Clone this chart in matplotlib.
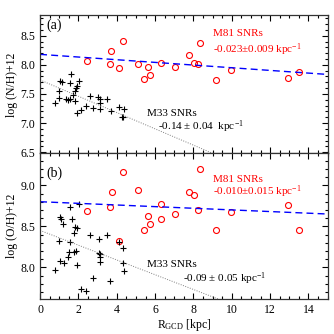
import matplotlib
matplotlib.use("Agg")
import matplotlib.pyplot as plt
import numpy as np
from matplotlib.ticker import MultipleLocator

plt.rcParams['font.family'] = ['Liberation Serif', 'DejaVu Serif']
plt.rcParams['mathtext.fontset'] = 'custom'
plt.rcParams['mathtext.rm'] = 'Liberation Serif'
plt.rcParams['mathtext.it'] = 'Liberation Serif:italic'

# Panel (a): log(N/H)+12
m81_r_a = [2.47, 3.70, 3.65, 4.31, 4.10, 5.11, 5.65, 5.44, 5.72, 6.31, 7.05, 7.78, 8.04, 8.22, 8.36, 9.16, 9.97, 12.91, 13.49]
m81_nh = [8.07, 8.24, 8.01, 8.41, 7.95, 8.01, 7.97, 7.76, 7.83, 8.04, 7.96, 8.17, 8.04, 8.02, 8.38, 7.74, 7.91, 7.77, 7.88]
m33_r_a = [1.62, 1.04, 1.13, 1.56, 2.05, 1.95, 0.99, 1.82, 1.74, 1.34, 1.48, 1.56, 1.82, 0.78, 2.62, 3.04, 3.13, 3.11,
           3.49, 2.38, 2.12, 1.90, 2.78, 3.13, 3.68, 4.12, 4.36, 4.29, 4.34, 1.01, 1.88]
m33_nh = [7.85, 7.72, 7.70, 7.69, 7.72, 7.63, 7.55, 7.55, 7.48, 7.41, 7.39, 7.41, 7.38, 7.34, 7.47, 7.44, 7.41, 7.35,
          7.41, 7.30, 7.22, 7.18, 7.25, 7.24, 7.21, 7.27, 7.24, 7.11, 7.10, 7.43, 7.60]

# Panel (b): log(O/H)+12
m81_r_b = [2.47, 4.31, 3.74, 3.65, 4.10, 5.11, 5.65, 5.72, 5.44, 6.31, 6.31, 7.05, 7.78, 8.04, 8.22, 8.36, 9.16, 9.97, 12.91, 13.49]
m81_oh = [8.69, 9.16, 8.92, 8.73, 8.32, 8.94, 8.62, 8.53, 8.46, 8.77, 8.59, 8.65, 8.92, 8.88, 8.70, 9.20, 8.45, 8.68, 8.76, 8.45]
m33_r_b = [2.03, 1.56, 1.04, 1.07, 1.17, 1.65, 1.79, 1.82, 1.91, 1.01, 1.56, 2.61, 3.06, 3.51, 4.13, 4.34, 1.51, 1.79,
           1.86, 3.08, 3.12, 3.12, 3.12, 1.04, 1.27, 1.44, 1.93, 0.78, 4.32, 4.36, 2.78, 3.66, 2.13, 2.38]
m33_oh = [8.77, 8.74, 8.61, 8.59, 8.53, 8.59, 8.42, 8.49, 8.48, 8.32, 8.31, 8.40, 8.34, 8.40, 8.31, 8.23, 8.19, 8.19,
          8.20, 8.18, 8.16, 8.12, 8.07, 8.08, 8.05, 8.12, 8.03, 7.97, 8.05, 7.95, 7.87, 7.83, 7.73, 7.71]

# Fitted gradients (intercept, slope)
fit_m81_a = (8.18, -0.023)
fit_m33_a = (7.74, -0.14)
fit_m81_b = (8.80, -0.010)
fit_m33_b = (8.45, -0.09)

fig = plt.figure(figsize=(3.34, 3.34), dpi=100)
axa = fig.add_axes([0.12, 0.541, 0.861, 0.413])
axb = fig.add_axes([0.12, 0.105, 0.861, 0.436])

xx = np.array([0.0, 15.0])

def style(ax):
    ax.set_xlim(0, 15)
    ax.xaxis.set_major_locator(MultipleLocator(2))
    ax.xaxis.set_minor_locator(MultipleLocator(0.5))
    ax.yaxis.set_major_locator(MultipleLocator(0.5))
    ax.yaxis.set_minor_locator(MultipleLocator(0.1))
    ax.tick_params(which='both', direction='in', top=True, right=True, labelsize=8.5, width=0.8)
    ax.tick_params(which='major', length=4)
    ax.tick_params(which='minor', length=2)
    for s in ax.spines.values():
        s.set_linewidth(0.9)
        s.set_color('#333333')

for ax, mr, my, cr, cy, f81, f33 in [
        (axa, m81_r_a, m81_nh, m33_r_a, m33_nh, fit_m81_a, fit_m33_a),
        (axb, m81_r_b, m81_oh, m33_r_b, m33_oh, fit_m81_b, fit_m33_b)]:
    ax.plot(mr, my, 'o', ms=4.3, mfc='none', mec='red', mew=0.8)
    ax.plot(cr, cy, '+', ms=4.5, color='black', mew=0.8)
    ax.plot(xx, f81[0] + f81[1] * xx, color='blue', ls=(0, (5, 3)), lw=1.0)
    ax.plot(xx, f33[0] + f33[1] * xx, color='gray', ls=(0, (1, 1.5)), lw=0.7)
    style(ax)

axa.set_ylim(6.48, 8.85)
axb.set_ylim(7.615, 9.39)
axa.tick_params(labelbottom=False)

axa.set_ylabel('log (N/H)+12', fontsize=8.5, labelpad=2)
axb.set_ylabel('log (O/H)+12', fontsize=8.5, labelpad=2)
axb.set_xlabel(r'R$_{\rm GCD}$ [kpc]', fontsize=8.5, labelpad=1)

axa.text(0.023, 0.93, '(a)', transform=axa.transAxes, fontsize=10, va='center')
axb.text(0.023, 0.86, '(b)', transform=axb.transAxes, fontsize=10, va='center')

axa.text(9.02, 8.54, 'M81 SNRs', color='red', fontsize=8, va='center')
axa.text(9.02, 8.26, r'-0.023$\pm$0.009 kpc$^{-1}$', color='red', fontsize=8, va='center')
axa.text(5.56, 7.17, 'M33 SNRs', color='black', fontsize=8, va='center')
axa.text(6.15, 6.94, r'-0.14 $\pm$ 0.04  kpc$^{-1}$', color='black', fontsize=8, va='center')

axb.text(9.02, 8.975, 'M81 SNRs\n' + r'-0.010$\pm$0.015 kpc$^{-1}$', color='red', fontsize=8,
         va='center', linespacing=1.0)
axb.text(5.56, 8.03, 'M33 SNRs', color='black', fontsize=8, va='center')
axb.text(7.45, 7.86, r'-0.09 $\pm$ 0.05 kpc$^{-1}$', color='black', fontsize=8, va='center')

fig.savefig('out.png', dpi=100)
